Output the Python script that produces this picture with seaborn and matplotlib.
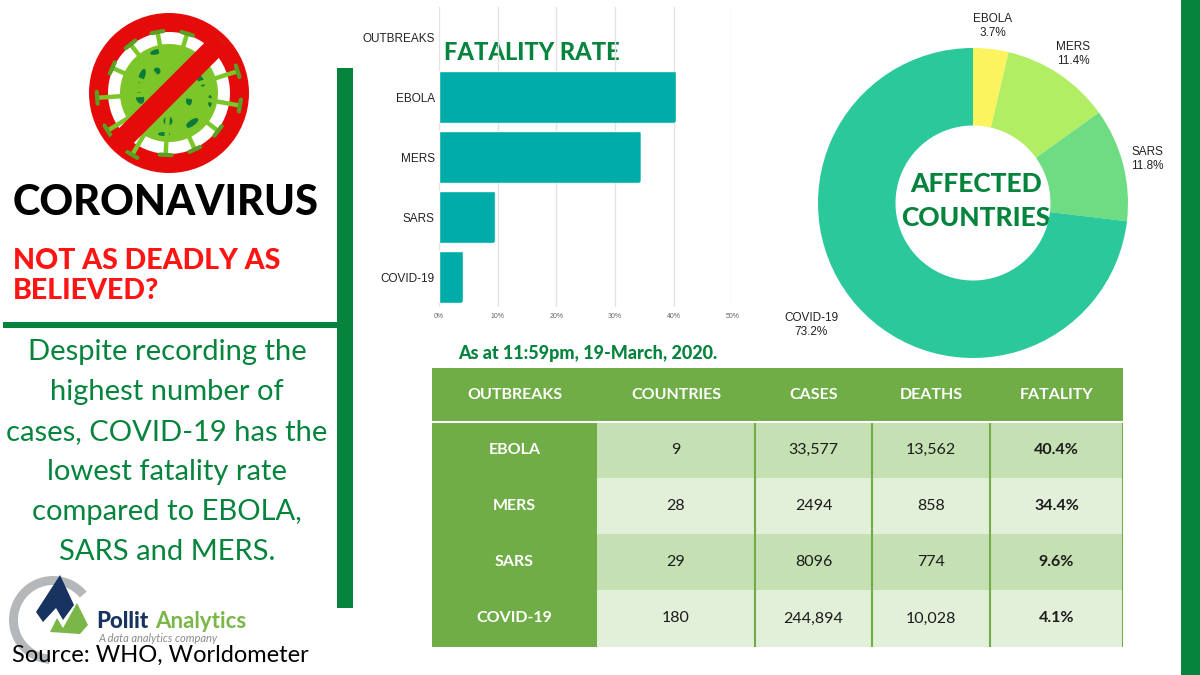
import numpy as np
import pandas as pd
import matplotlib.pyplot as plt
import seaborn as sns
from matplotlib.patches import Circle, Rectangle, Polygon, Ellipse, FancyBboxPatch, Wedge

# Datos
outbreaks = ["EBOLA", "MERS", "SARS", "COVID-19"]
fatality = [40.4, 34.4, 9.6, 4.1]
countries_share = [3.7, 11.4, 11.8, 73.2]
countries = ["9", "28", "29", "180"]
cases = ["33,577", "2494", "8096", "244,894"]
deaths = ["13,562", "858", "774", "10,028"]
fatality_txt = ["40.4%", "34.4%", "9.6%", "4.1%"]
table_header = ["OUTBREAKS", "COUNTRIES", "CASES", "DEATHS", "FATALITY"]
pct_ticks = [0, 10, 20, 30, 40, 50]

GREEN = "#06843d"
W, H = 1200, 675

sns.set_theme(style="white")
plt.rcParams["font.family"] = ["Lato", "DejaVu Sans"]

fig = plt.figure(figsize=(12, 6.75), dpi=100, facecolor="white")


def px_axes(left, top, right, bottom, **kw):
    return fig.add_axes([left / W, 1 - bottom / H, (right - left) / W, (bottom - top) / H], **kw)


# Capa de fondo en pixeles para textos y adornos
bg = fig.add_axes([0, 0, 1, 1])
bg.set_xlim(0, W)
bg.set_ylim(H, 0)
bg.axis("off")

bg.add_patch(Rectangle((337, 68), 16, 540, color=GREEN, lw=0))
bg.add_patch(Rectangle((3, 322), 334, 6, color=GREEN, lw=0))
bg.add_patch(Rectangle((1181, 0), 19, 675, color=GREEN, lw=0))

# Icono del virus
cx, cy = 169, 93
bg.add_patch(Circle((cx, cy), 80, color="#e60b0b", lw=0))
bg.add_patch(Circle((cx, cy), 61, color="white", lw=0))
for a in np.arange(0, 360, 27.7) + 10:
    r = np.radians(a)
    long_spike = int(a) % 2 == 0
    end = 72 if long_spike else 62
    ux, uy = np.cos(r), np.sin(r)
    bg.plot([cx, cx + end * ux], [cy, cy + end * uy], color="#7cc62a", lw=3.2, solid_capstyle="butt")
    bg.plot([cx + end * ux - 6 * uy, cx + end * ux + 6 * uy],
            [cy + end * uy + 6 * ux, cy + end * uy - 6 * ux], color="#5a9e22", lw=3)
bg.add_patch(Circle((cx, cy), 49, color="#7cc62a", lw=0))
for dx, dy, w, h, ang in [(-27, -17, 6, 15, 20), (-29, 5, 8, 12, -20), (-12, -22, 7, 7, 0), (-13, -41, 12, 5, -15),
                          (32, -12, 6, 12, -25), (20, 8, 6, 9, 0), (41, 8, 4, 12, 0), (-1, 28, 9, 9, 0),
                          (23, 30, 15, 6, -35), (-5, 41, 12, 4, 0)]:
    bg.add_patch(Ellipse((cx + dx, cy + dy), w, h, angle=ang, color="#0b7a3b", lw=0))
band = np.radians(45)
bg.plot([cx - 74 * np.cos(band), cx + 74 * np.cos(band)], [cy + 74 * np.sin(band), cy - 74 * np.sin(band)],
        color="#e60b0b", lw=15, solid_capstyle="butt")

# Textos de la columna izquierda
bg.text(13, 203, "CORONAVIRUS", fontsize=30, fontweight="black", color="black", va="center", ha="left")
bg.text(13, 261, "NOT AS DEADLY AS", fontsize=20.5, fontweight="black", color="#ff1414", va="center")
bg.text(13, 291, "BELIEVED?", fontsize=20.5, fontweight="black", color="#ff1414", va="center")
body = ["Despite recording the", "highest number of", "cases, COVID-19 has the", "lowest fatality rate",
        "compared to EBOLA,", "SARS and MERS."]
for i, line in enumerate(body):
    bg.text(167, 352 + i * 40, line, fontsize=21, color=GREEN, ha="center", va="center")

# Logo
bg.add_patch(Wedge((53, 620), 44, 95, 320, width=9, color="#b5b8ba", lw=0))
bg.add_patch(Polygon([(60, 575), (74, 605), (63, 620), (56, 608), (43, 622), (36, 612)], color="#17335f", lw=0))
bg.add_patch(Polygon([(77, 603), (88, 625), (80, 634), (50, 632), (57, 618), (63, 628)], color="#7ab648", lw=0))
bg.text(96, 622, "Pollit", fontsize=16, fontweight="black", color="#17335f", va="center")
bg.text(155, 622, "Analytics", fontsize=16, fontweight="bold", color="#7ab648", va="center")
bg.text(98, 638, "A data analytics company", fontsize=8, style="italic", color="#8b8b8b", va="center")
bg.text(12, 655, "Source: WHO, Worldometer", fontsize=17, color="black", va="center")

# Grafica de barras
ax = px_axes(439, 7, 732.3, 307)
df = pd.DataFrame({"outbreak": ["OUTBREAKS"] + outbreaks, "fatality": [np.nan] + fatality})
sns.barplot(data=df, y="outbreak", x="fatality", color="#00aca8", saturation=1, width=0.87, ax=ax, zorder=3)
ax.set_xlim(0, 50)
ax.set_ylim(4.5, -0.5)
ax.set_xlabel("")
ax.set_ylabel("")
ax.set_xticks(pct_ticks)
ax.set_xticklabels([f"{t}%" for t in pct_ticks], fontsize=5, color="#666666", family="Liberation Sans")
ax.tick_params(axis="x", length=0, pad=4)
ax.tick_params(axis="y", length=0, pad=3)
for lab in ax.get_yticklabels():
    lab.set_fontsize(8.5)
    lab.set_family("Liberation Sans")
    lab.set_color("#222222")
ax.grid(axis="x", color="#e3e3e3", lw=1)
sns.despine(ax=ax, left=True, bottom=True, top=True, right=True)
ax.patch.set_alpha(0)
for p in ax.patches:
    if np.isnan(p.get_width()) or p.get_width() == 0:
        continue
    clip = FancyBboxPatch((-2, p.get_y()), p.get_width() + 2, p.get_height(), boxstyle="round,pad=0,rounding_size=0.5",
                          mutation_aspect=5.86 / 60, transform=ax.transData)
    p.set_clip_path(clip)
bg.text(444, 52, "FATALITY RATE", fontsize=17, fontweight="black", color=GREEN, va="center", zorder=5)
ax.text(1, 0.2, "FATALITY RATE", alpha=0)

# Dona
pie_ax = px_axes(818, 48, 1128, 358)
pie_ax.pie(countries_share, startangle=90, counterclock=False, radius=1,
           colors=["#fcf45e", "#b2ee63", "#6edc82", "#2ac89b"],
           wedgeprops={"width": 0.5, "linewidth": 0})
pie_ax.set_xlim(-1, 1)
pie_ax.set_ylim(-1, 1)
label_pos = [(993, 26), (1073, 54), (1147, 159), (811, 325)]
for name, val, (lx, ly) in zip(outbreaks, countries_share, label_pos):
    bg.text(lx, ly, f"{name}\n{val}%", fontsize=8.5, family="Liberation Sans", color="#222222",
            ha="center", va="center", linespacing=1.25)
bg.text(976, 184, "AFFECTED", fontsize=19, fontweight="black", color=GREEN, ha="center", va="center", zorder=5)
bg.text(976, 218, "COUNTRIES", fontsize=19, fontweight="black", color=GREEN, ha="center", va="center", zorder=5)

# Tabla
bg.text(458, 353, "As at 11:59pm, 19-March, 2020.", fontsize=13, fontweight="black", color=GREEN, va="center")
col_edges = [432, 597, 755, 872, 990, 1123]
row_edges = [368, 422, 478, 534, 590, 647]
tab_ax = px_axes(432, 368, 1123, 647)
tab_ax.axis("off")
rows = [table_header] + [list(r) for r in zip(outbreaks, countries, cases, deaths, fatality_txt)]
widths = [(b - a) / (col_edges[-1] - col_edges[0]) for a, b in zip(col_edges, col_edges[1:])]
heights = [(b - a) / (row_edges[-1] - row_edges[0]) for a, b in zip(row_edges, row_edges[1:])]
tb = tab_ax.table(cellText=rows, colWidths=widths, cellLoc="center", loc="center", bbox=[0, 0, 1, 1])
tb.auto_set_font_size(False)
for (r, c), cell in tb.get_celld().items():
    cell.set_height(heights[r])
    cell.PAD = 0.02
    txt = cell.get_text()
    txt.set_fontsize(11.5)
    cell.set_linewidth(0)
    if r == 0 or c == 0:
        cell.set_facecolor("#70ad47")
        txt.set_color("white")
        txt.set_fontweight("bold")
    else:
        cell.set_facecolor("#c5e0b3" if r % 2 == 1 else "#e2efd9")
        txt.set_color("#1c1c1c")
        if c == 4:
            txt.set_fontweight("bold")
# Separadores de la tabla
for x in col_edges[2:-1]:
    tab_ax.axvline((x - 432) / 691, ymin=0, ymax=(647 - 422) / 279, color="#70ad47", lw=1.5, zorder=6)
tab_ax.axvline(1, color="#70ad47", lw=1.5, zorder=6)
tab_ax.axhline((647 - 422) / 279, color="white", lw=1.5, zorder=6)
tab_ax.plot([0, 165 / 691], [(647 - 534) / 279 + 0.2, (647 - 534) / 279 + 0.2], alpha=0)
tab_ax.set_xlim(0, 1)
tab_ax.set_ylim(0, 1)

fig.savefig("out.png", dpi=100)
